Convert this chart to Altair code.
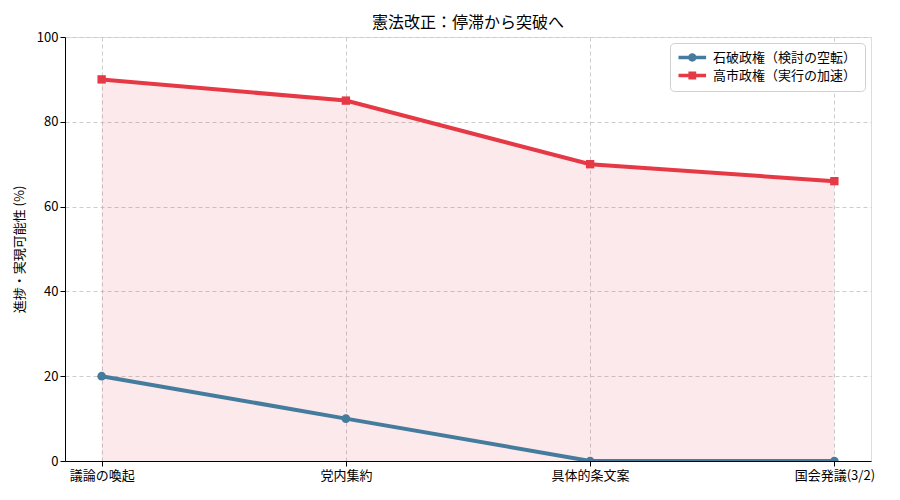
import altair as alt
import pandas as pd

categories = ["議論の喚起", "党内集約", "具体的条文案", "国会発議(3/2)"]
series_names = ["石破政権（検討の空転）", "高市政権（実行の加速）"]
ishiba_values = [20, 10, 0, 0]
takaichi_values = [90, 85, 70, 66]
colors = ["#457B9D", "#E63946"]
y_ticks = [0, 20, 40, 60, 80, 100]

rows = []
for c, v in zip(categories, ishiba_values):
    rows.append({"cat": c, "series": series_names[0], "value": v})
for c, v in zip(categories, takaichi_values):
    rows.append({"cat": c, "series": series_names[1], "value": v})
df = pd.DataFrame(rows)

FONT = "Noto Sans CJK JP"

x_enc = alt.X(
    "cat:O",
    sort=categories,
    scale=alt.Scale(type="point", padding=0.15),
    axis=alt.Axis(
        title=None, labelAngle=0, grid=True, gridDash=[4, 3], gridColor="#cccccc",
        tickColor="black", tickSize=5, domainColor="black", labelColor="black",
        labelFontSize=13, labelFont=FONT, labelPadding=3, labelOverlap=False,
    ),
)
y_enc = alt.Y(
    "value:Q",
    scale=alt.Scale(domain=[0, 100], nice=False),
    axis=alt.Axis(
        title="進捗・実現可能性 (%)", values=y_ticks, grid=True, gridDash=[4, 3],
        gridColor="#cccccc", tickColor="black", tickSize=5, domainColor="black",
        labelColor="black", labelFontSize=13, labelFont=FONT, titleFont=FONT,
        titleFontSize=13, titleFontWeight="normal", titleColor="black", titlePadding=10,
    ),
)

base = alt.Chart(df)

area = base.transform_filter(alt.datum.series == series_names[1]).mark_area(
    color=colors[1], opacity=0.11, clip=True
).encode(x=x_enc, y=y_enc)

blue_line = base.transform_filter(alt.datum.series == series_names[0]).mark_line(
    color=colors[0], strokeWidth=4, clip=True
).encode(x=x_enc, y=y_enc)
blue_pts = base.transform_filter(alt.datum.series == series_names[0]).mark_point(
    shape="circle", filled=True, color=colors[0], size=75, opacity=1, clip=True
).encode(x=x_enc, y=y_enc)

red_line = base.transform_filter(alt.datum.series == series_names[1]).mark_line(
    color=colors[1], strokeWidth=4, clip=True
).encode(x=x_enc, y=y_enc)
red_pts = base.transform_filter(alt.datum.series == series_names[1]).mark_point(
    shape="square", filled=True, color=colors[1], size=70, opacity=1, clip=True
).encode(x=x_enc, y=y_enc)

circle_path = ("M-1,-0.3H3.6V0.3H-1Z"
               "M2.0,0A0.7,0.7 0 1,1 0.6,0A0.7,0.7 0 1,1 2.0,0Z")
square_path = ("M-1,-0.3H3.6V0.3H-1Z"
               "M0.65,-0.65H1.95V0.65H0.65Z")

legend_layer = base.transform_filter("false").mark_point(
    filled=True, opacity=1
).encode(
    x=x_enc,
    y=y_enc,
    color=alt.Color(
        "series:N",
        scale=alt.Scale(domain=series_names, range=colors),
        legend=alt.Legend(
            title=None, orient="top-right", offset=6, padding=8,
            fillColor="white", strokeColor="#d0d0d0", cornerRadius=4,
            symbolSize=144, symbolStrokeWidth=0, symbolOpacity=1,
            labelFont=FONT, labelFontSize=13, labelColor="black",
            labelOffset=22, rowPadding=4,
        ),
    ),
    shape=alt.Shape(
        "series:N",
        scale=alt.Scale(domain=series_names, range=[circle_path, square_path]),
        legend=None,
    ),
)

chart = alt.layer(area, blue_line, red_line, blue_pts, red_pts, legend_layer).properties(
    width=806,
    height=424,
    autosize=alt.AutoSizeParams(type="none"),
    padding={"left": 57, "top": 29, "right": 15, "bottom": 25},
    title=alt.TitleParams(
        "憲法改正：停滞から突破へ", font=FONT, fontSize=16, fontWeight="normal",
        color="black", anchor="middle", offset=0,
    ),
).configure_view(stroke="black", strokeWidth=1).configure(background="white")

chart.save("out.html", embed_options={"renderer": "svg", "actions": False})
